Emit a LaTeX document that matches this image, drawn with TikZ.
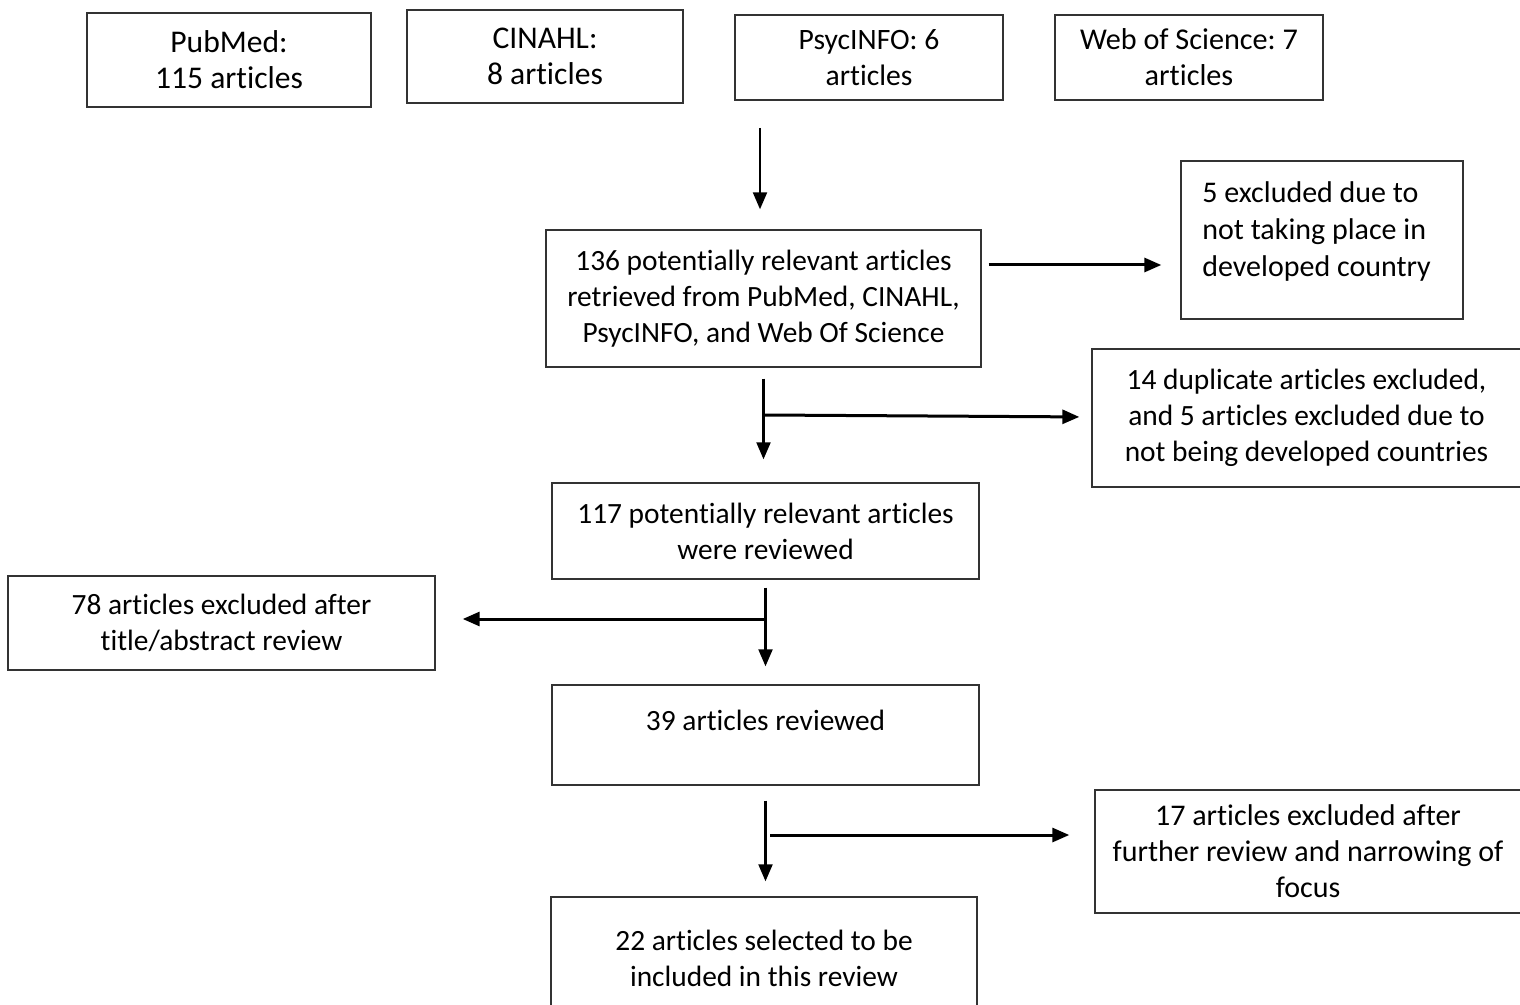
\documentclass[tikz,border=0pt]{standalone}
\usepackage{fontspec}
\setmainfont{Carlito}[RawFeature={-liga;-clig;-dlig;-calt}]
\usetikzlibrary{arrows.meta}
\begin{document}
\frenchspacing
\begin{tikzpicture}[x=0.5pt,y=-0.5pt,
  box/.style={draw=black!80, line width=0.7pt, rectangle, inner sep=0pt, align=center, font=\fontsize{14.7}{18}\selectfont},
  topbox/.style={box, font=\fontsize{15.8}{18}\selectfont},
  txt/.style={inner sep=0pt, font=\fontsize{14.7}{18}\selectfont},
  arr/.style={-{Triangle[length=8.5pt,width=7pt]}, line width=1.1pt},
  harr/.style={arr, line width=1.5pt}]
\useasboundingbox (0,0) rectangle (1520,1005);
\clip (0,0) rectangle (1520,1005);

% sources
\node[topbox, minimum width=142pt, minimum height=47pt] (pub) at (229,60) {PubMed:\\115 articles};
\node[topbox, minimum width=138pt, minimum height=46.5pt] (cin) at (545,56.5) {CINAHL:\\8 articles};
\node[topbox, font=\fontsize{14.8}{18}\selectfont, minimum width=134pt, minimum height=42.5pt] (psy) at (869,57.5) {PsycINFO: 6\\articles};
\node[topbox, font=\fontsize{15.1}{18}\selectfont, minimum width=134pt, minimum height=42.5pt] (wos) at (1189,57.5) {Web of Science: 7\\articles};

% flow boxes
\node[box, minimum width=217.5pt, minimum height=68.5pt] (b136) at (763.5,298.5) {136 potentially relevant articles\\retrieved from PubMed, CINAHL,\\PsycINFO, and Web Of Science};
\node[box, minimum width=141pt, minimum height=79pt] (ex5) at (1322,240) {};
\node[txt, align=left, anchor=north west, font=\fontsize{15}{18.5}\selectfont] (ex5t) at (1202,181) {5 excluded due to\\not taking place in\\developed country};
\node[box, minimum width=214.5pt, minimum height=69pt] (dup) at (1306.5,418) {14 duplicate articles excluded,\\and 5 articles excluded due to\\not being developed countries};
\node[box, minimum width=213.5pt, minimum height=48pt] (b117) at (765.5,531) {117 potentially relevant articles\\were reviewed};
\node[box, minimum width=213.5pt, minimum height=47pt] (ex78) at (221.5,623) {78 articles excluded after\\title/abstract review};
\node[box, minimum width=213.5pt, minimum height=50pt] (b39) at (765.5,735) {};
\node[txt] (b39t) at (765.5,720) {39 articles reviewed};
\node[box, font=\fontsize{15}{18}\selectfont, minimum width=213pt, minimum height=61.5pt] (ex17) at (1308,851.5) {17 articles excluded after\\further review and narrowing of\\focus};
\node[box, minimum width=213pt, minimum height=61.5pt] (b22) at (764,958.5) {22 articles selected to be\\included in this review};

% connectors
\coordinate (src) at (760,128);
\draw[arr, shorten >=10pt] (src) -- (src |- b136.north);
\draw[harr, shorten <=3.5pt, shorten >=9.5pt] (b136.east |- 0,265) -- (ex5.west |- 0,265);
\draw[arr, shorten <=5.5pt, shorten >=11.5pt] (b136.south) -- (b136.south |- b117.north);
\coordinate (j1) at (764,415);
\draw[harr, shorten >=6pt] (j1) -- (dup.west |- 0,417);
\draw[arr, shorten <=4pt, shorten >=9pt] (b117.south) -- (b39.north);
\coordinate (j2) at (765.5,619);
\draw[harr, shorten >=13.5pt] (j2) -- (ex78.east |- j2);
\draw[arr, shorten <=7.5pt, shorten >=7.5pt] (b39.south) -- (b39.south |- b22.north);
\coordinate (j3) at (770,835);
\draw[harr, shorten >=12.5pt] (j3) -- (ex17.west |- j3);
\end{tikzpicture}
\end{document}
